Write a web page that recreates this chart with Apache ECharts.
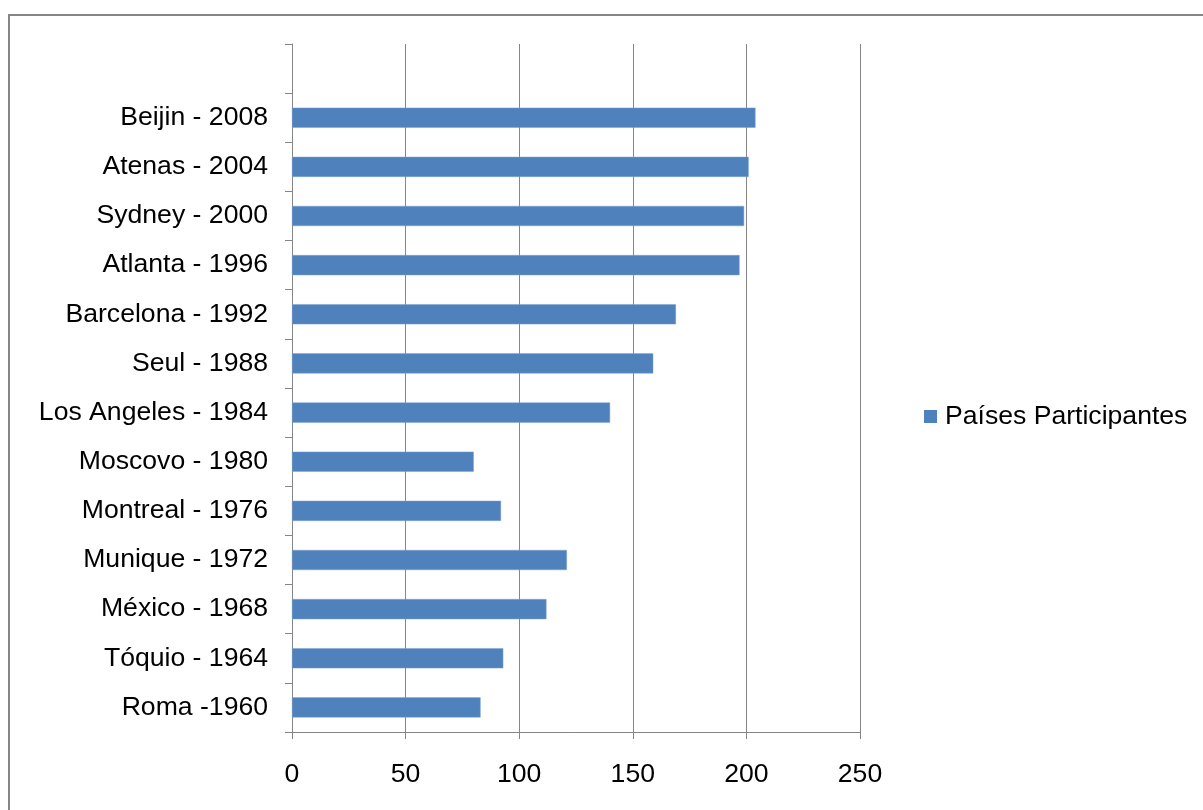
<!DOCTYPE html>
<html>
<head>
<meta charset="utf-8">
<script src="https://cdn.jsdelivr.net/npm/echarts@6/dist/echarts.min.js"></script>
<style>
    html, body {margin: 0; padding: 0; background: #fff;}
    #chart {width: 1203px; height: 810px;}
</style>
</head>
<body>
<div id="chart"></div>
<script>
// categorias de baixo para cima (a de cima fica vazia, como no original)
var cidades = ['Roma -1960', 'Tóquio - 1964', 'México - 1968', 'Munique - 1972', 'Montreal - 1976',
    'Moscovo - 1980', 'Los Angeles - 1984', 'Seul - 1988', 'Barcelona - 1992', 'Atlanta - 1996',
    'Sydney - 2000', 'Atenas - 2004', 'Beijin - 2008', ''];
var paises = [83, 93, 112, 121, 92, 80, 140, 159, 169, 197, 199, 201, 204, '-'];
var serieNome = 'Países Participantes';
var eixoX = {min: 0, max: 250, interval: 50};

var fonte = 'Liberation Sans, Arial, sans-serif';
var cinza = '#868686';
var tam = 26.6;

var chart = echarts.init(document.getElementById('chart'));

var option = {
    animation: false,
    backgroundColor: '#fff',
    textStyle: {fontFamily: fonte},
    graphic: [{
        type: 'rect',
        shape: {x: 9, y: 15, width: 1400, height: 1000},
        style: {fill: 'none', stroke: cinza, lineWidth: 2},
        silent: true
    }],
    grid: {left: 292, top: 44, width: 568, height: 688, containLabel: false},
    legend: {
        data: [serieNome],
        left: 919,
        top: 398,
        orient: 'vertical',
        icon: 'rect',
        itemWidth: 13,
        itemHeight: 13,
        itemStyle: {borderWidth: 0},
        textStyle: {fontSize: tam, color: '#000', fontFamily: fonte, padding: [0, 0, 0, 3]}
    },
    xAxis: {
        type: 'value',
        min: eixoX.min,
        max: eixoX.max,
        interval: eixoX.interval,
        axisLine: {show: true, lineStyle: {color: cinza, width: 1}},
        axisTick: {show: true, length: 7, lineStyle: {color: cinza}},
        axisLabel: {fontSize: tam, color: '#000', margin: 29, fontFamily: fonte},
        splitLine: {show: true, lineStyle: {color: cinza, width: 1}}
    },
    yAxis: {
        type: 'category',
        data: cidades,
        boundaryGap: true,
        axisLine: {show: true, onZero: false, lineStyle: {color: cinza, width: 1}},
        axisTick: {show: true, length: 7, alignWithLabel: false, lineStyle: {color: cinza}},
        axisLabel: {fontSize: tam, color: '#000', margin: 24, fontFamily: fonte, interval: 0},
        splitLine: {show: false}
    },
    series: [{
        name: serieNome,
        type: 'bar',
        data: paises,
        barCategoryGap: '59%',
        itemStyle: {color: '#4F81BD', borderColor: '#7DA2CE', borderWidth: 0.5}
    }]
};
chart.setOption(option);
</script>
</body>
</html>
